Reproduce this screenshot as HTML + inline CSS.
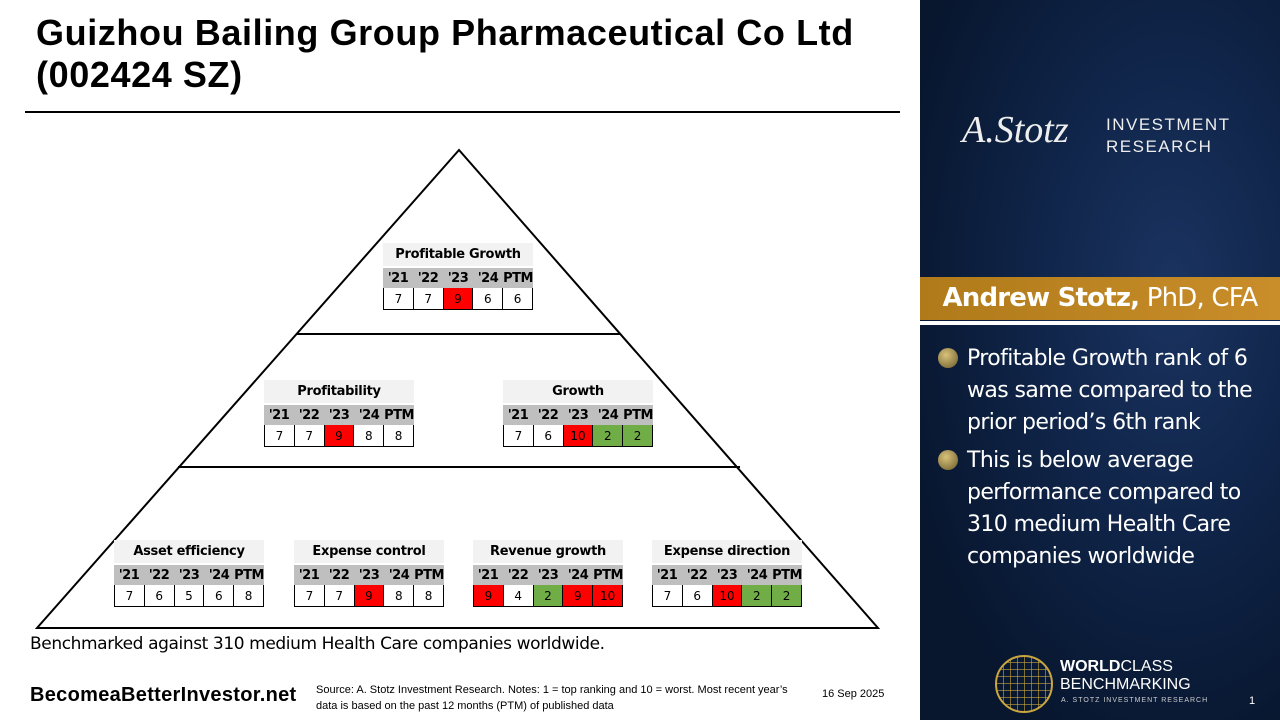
<!DOCTYPE html>
<html><head><meta charset="utf-8"><style>
body{margin:0;width:1280px;height:720px;position:relative;overflow:hidden;background:#fff;font-family:"Liberation Sans",sans-serif}
.abs{position:absolute}
.tb{position:absolute;width:150px;font-family:"DejaVu Sans","Liberation Sans",sans-serif}
.tb .t{height:23px;background:#f2f2f2;font-size:13px;font-weight:bold;text-align:center;line-height:24px;letter-spacing:-0.3px}
.tb .h{margin-top:2px;height:20px;background:#bfbfbf;display:flex;font-size:13px;font-weight:bold;line-height:22px}
.tb .h span{width:30px;text-align:center;letter-spacing:-0.5px}
.tb .d{height:21px;display:flex;border-left:1px solid #000;border-bottom:1px solid #000}
.tb .d span{width:29px;border-right:1px solid #000;text-align:center;font-size:12px;line-height:22px}
.r{background:#ff0000}.g{background:#70ad47}
</style></head><body>
<div class="abs" style="left:36px;top:12px;font-size:36px;font-weight:bold;line-height:42px;color:#000;letter-spacing:0.6px">Guizhou Bailing Group Pharmaceutical Co Ltd<br>(002424 SZ)</div>
<div class="abs" style="left:25px;top:111px;width:875px;height:2px;background:#000"></div>
<svg class="abs" style="left:0;top:0" width="920" height="720">
<polygon points="459,150 37,628 878,628" fill="none" stroke="#000" stroke-width="2"/>
<line x1="297" y1="334" x2="621" y2="334" stroke="#000" stroke-width="2"/>
<line x1="178" y1="467" x2="740" y2="467" stroke="#000" stroke-width="2"/>
</svg>
<div class="tb" style="left:383px;top:243px"><div class="t">Profitable Growth</div><div class="h"><span>'21</span><span>'22</span><span>'23</span><span>'24</span><span>PTM</span></div><div class="d"><span>7</span><span>7</span><span class="r">9</span><span>6</span><span>6</span></div></div>
<div class="tb" style="left:264px;top:380px"><div class="t">Profitability</div><div class="h"><span>'21</span><span>'22</span><span>'23</span><span>'24</span><span>PTM</span></div><div class="d"><span>7</span><span>7</span><span class="r">9</span><span>8</span><span>8</span></div></div>
<div class="tb" style="left:503px;top:380px"><div class="t">Growth</div><div class="h"><span>'21</span><span>'22</span><span>'23</span><span>'24</span><span>PTM</span></div><div class="d"><span>7</span><span>6</span><span class="r">10</span><span class="g">2</span><span class="g">2</span></div></div>
<div class="tb" style="left:114px;top:540px"><div class="t">Asset efficiency</div><div class="h"><span>'21</span><span>'22</span><span>'23</span><span>'24</span><span>PTM</span></div><div class="d"><span>7</span><span>6</span><span>5</span><span>6</span><span>8</span></div></div>
<div class="tb" style="left:294px;top:540px"><div class="t">Expense control</div><div class="h"><span>'21</span><span>'22</span><span>'23</span><span>'24</span><span>PTM</span></div><div class="d"><span>7</span><span>7</span><span class="r">9</span><span>8</span><span>8</span></div></div>
<div class="tb" style="left:473px;top:540px"><div class="t">Revenue growth</div><div class="h"><span>'21</span><span>'22</span><span>'23</span><span>'24</span><span>PTM</span></div><div class="d"><span class="r">9</span><span>4</span><span class="g">2</span><span class="r">9</span><span class="r">10</span></div></div>
<div class="tb" style="left:652px;top:540px"><div class="t">Expense direction</div><div class="h"><span>'21</span><span>'22</span><span>'23</span><span>'24</span><span>PTM</span></div><div class="d"><span>7</span><span>6</span><span class="r">10</span><span class="g">2</span><span class="g">2</span></div></div>
<div class="abs" style="left:30px;top:634px;font-size:17px;font-family:'DejaVu Sans',sans-serif;letter-spacing:-0.4px">Benchmarked against 310 medium Health Care companies worldwide.</div>
<div class="abs" style="left:30px;top:684px;font-size:20px;font-weight:bold;letter-spacing:0.3px">BecomeaBetterInvestor.net</div>
<div class="abs" style="left:316px;top:682px;width:490px;font-size:11px;line-height:16px">Source: A. Stotz Investment Research. Notes: 1 = top ranking and 10 = worst. Most recent year’s data is based on the past 12 months (PTM) of published data</div>
<div class="abs" style="left:822px;top:688px;font-size:11px">16 Sep 2025</div>
<div class="abs" style="left:920px;top:0;width:360px;height:720px;background:radial-gradient(ellipse at 70% 40%,#1a3360 0%,#0f2448 40%,#08162e 80%)"></div>
<div class="abs" style="left:962px;top:108px;color:#eee;font-family:'Liberation Serif',serif;font-style:italic;font-size:38px">A.Stotz</div>
<div class="abs" style="left:1106px;top:114px;color:#eee;font-size:17px;line-height:22px;letter-spacing:1.5px">INVESTMENT<br>RESEARCH</div>
<div class="abs" style="left:920px;top:277px;width:360px;height:43px;background:linear-gradient(90deg,#b07a1a,#c98e2a);color:#fff;font-size:26px;line-height:43px;text-align:center;font-family:'DejaVu Sans',sans-serif;letter-spacing:-0.8px"><b>Andrew Stotz,</b> PhD, CFA</div>
<div class="abs" style="left:920px;top:321px;width:360px;height:4px;background:#fff"></div>
<div class="abs" style="left:938px;top:343px;width:330px;color:#fff;font-size:22px;line-height:32px;font-family:'DejaVu Sans',sans-serif;letter-spacing:-0.6px">
<div style="position:relative;padding-left:29px"><span style="position:absolute;left:0;top:5px;width:20px;height:20px;border-radius:50%;background:radial-gradient(circle at 40% 35%,#d8c27a,#6a5a2a)"></span>Profitable Growth rank of 6 was same compared to the prior period’s 6th rank</div>
<div style="position:relative;padding-left:29px;margin-top:6px"><span style="position:absolute;left:0;top:5px;width:20px;height:20px;border-radius:50%;background:radial-gradient(circle at 40% 35%,#d8c27a,#6a5a2a)"></span>This is below average performance compared to 310 medium Health Care companies worldwide</div>
</div>
<div class="abs" style="left:995px;top:655px;width:58px;height:58px;border-radius:50%;border:2px solid #c9a640;box-sizing:border-box;background:repeating-linear-gradient(90deg,transparent 0 6px,rgba(201,166,64,.6) 6px 7px),repeating-linear-gradient(0deg,transparent 0 6px,rgba(201,166,64,.6) 6px 7px)"></div>
<div class="abs" style="left:1060px;top:658px;color:#fff;font-size:16px;line-height:18px"><b>WORLD</b>CLASS<br>BENCHMARKING</div>
<div class="abs" style="left:1061px;top:697px;color:#ccc;font-size:7px;letter-spacing:1px">A. STOTZ INVESTMENT RESEARCH</div>
<div class="abs" style="left:1249px;top:695px;color:#fff;font-size:11px">1</div>
</body></html>
